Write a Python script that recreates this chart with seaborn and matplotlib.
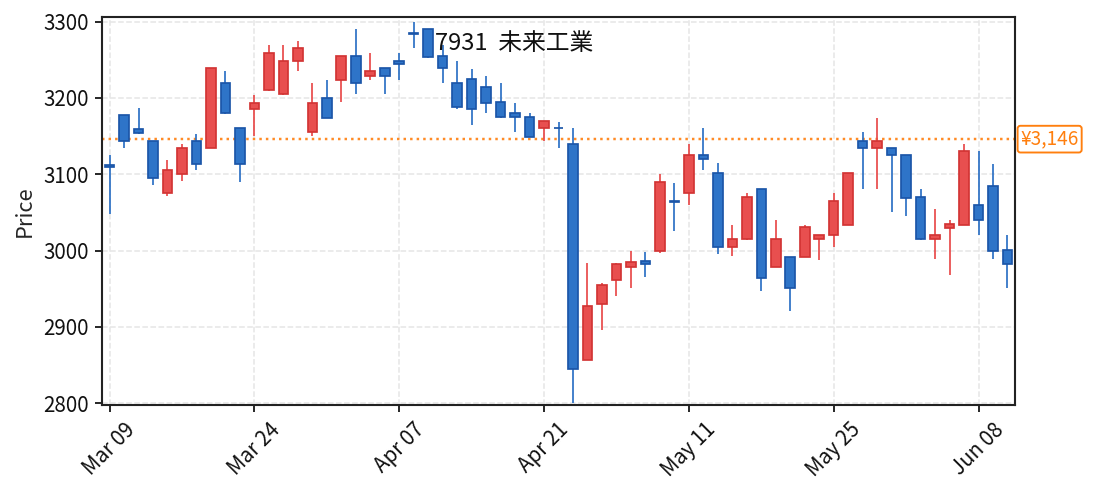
import matplotlib
matplotlib.use("Agg")
import matplotlib.pyplot as plt
import seaborn as sns
import numpy as np
import pandas as pd

dates = ["Mar 09", "Mar 10", "Mar 11", "Mar 12", "Mar 13", "Mar 16", "Mar 17", "Mar 18", "Mar 19", "Mar 23",
         "Mar 24", "Mar 25", "Mar 26", "Mar 27", "Mar 30", "Mar 31", "Apr 01", "Apr 02", "Apr 03", "Apr 06",
         "Apr 07", "Apr 08", "Apr 09", "Apr 10", "Apr 13", "Apr 14", "Apr 15", "Apr 16", "Apr 17", "Apr 20",
         "Apr 21", "Apr 22", "Apr 23", "Apr 24", "Apr 27", "Apr 28", "Apr 30", "May 01", "May 07", "May 08",
         "May 11", "May 12", "May 13", "May 14", "May 15", "May 18", "May 19", "May 20", "May 21", "May 22",
         "May 25", "May 26", "May 27", "May 28", "May 29", "Jun 01", "Jun 02", "Jun 03", "Jun 04", "Jun 05",
         "Jun 08", "Jun 09", "Jun 10"]

opens = [3112, 3177, 3159, 3143, 3076, 3100, 3143, 3134, 3219, 3160,
         3185, 3210, 3205, 3249, 3155, 3200, 3224, 3255, 3229, 3239,
         3249, 3285, 3290, 3255, 3220, 3225, 3214, 3195, 3180, 3175,
         3160, 3161, 3140, 2856, 2930, 2961, 2979, 2986, 3000, 3065,
         3075, 3125, 3101, 3004, 3015, 3081, 2979, 2992, 2992, 3015,
         3020, 3034, 3144, 3134, 3134, 3125, 3070, 3015, 3030, 3034,
         3060, 3084, 3001]
highs = [3125, 3178, 3187, 3144, 3119, 3139, 3153, 3239, 3235, 3161,
         3204, 3269, 3269, 3274, 3219, 3224, 3255, 3290, 3259, 3239,
         3259, 3299, 3291, 3269, 3249, 3238, 3229, 3219, 3194, 3180,
         3170, 3169, 3160, 2984, 2958, 2984, 3000, 2998, 3100, 3089,
         3139, 3160, 3115, 3034, 3075, 3081, 3040, 2992, 3034, 3020,
         3075, 3101, 3155, 3174, 3134, 3125, 3080, 3055, 3040, 3139,
         3130, 3114, 3020]
lows = [3048, 3134, 3153, 3086, 3071, 3091, 3105, 3134, 3179, 3090,
        3150, 3209, 3204, 3235, 3150, 3174, 3195, 3205, 3224, 3205,
        3224, 3265, 3253, 3219, 3185, 3164, 3180, 3174, 3155, 3149,
        3144, 3135, 2800, 2856, 2896, 2941, 2951, 2965, 2997, 3026,
        3060, 3105, 2995, 2993, 3014, 2947, 2979, 2921, 2992, 2988,
        3005, 3034, 3081, 3081, 3050, 3045, 3014, 2989, 2968, 3034,
        3020, 2989, 2951]
closes = [3110, 3143, 3154, 3095, 3105, 3134, 3114, 3239, 3180, 3114,
          3194, 3259, 3249, 3265, 3194, 3174, 3255, 3219, 3235, 3229,
          3244, 3284, 3254, 3239, 3188, 3185, 3194, 3175, 3175, 3149,
          3170, 3160, 2845, 2927, 2955, 2983, 2985, 2982, 3090, 3064,
          3125, 3120, 3004, 3015, 3070, 2964, 3015, 2951, 3031, 3020,
          3065, 3101, 3134, 3144, 3125, 3069, 3015, 3020, 3035, 3130,
          3040, 3000, 2982]

ref_price = 3146
ref_label = "¥3,146"
title_text = "7931  未来工業"
y_label = "Price"
tick_positions = [0, 10, 20, 30, 40, 50, 60]
y_ticks = [2800, 2900, 3000, 3100, 3200, 3300]

df = pd.DataFrame({"date": dates, "open": opens, "high": highs, "low": lows, "close": closes})
df["i"] = np.arange(len(df))
df["up"] = df["close"] > df["open"]

sns.set_theme(style="ticks")
plt.rcParams["font.family"] = ["Noto Sans CJK JP", "DejaVu Sans"]

UP_FILL, UP_EDGE, UP_WICK = "#e84f4f", "#d23434", "#e84848"
DN_FILL, DN_EDGE, DN_WICK = "#2e74c8", "#1b55a8", "#2a6fc4"

DPI = 137
fig = plt.figure(figsize=(1093 / DPI, 495 / DPI), dpi=DPI)
ax = fig.add_axes([0.0936, 0.181, 0.8348, 0.7845])

ax.grid(True, linestyle="--", color="#e6e6e6", linewidth=0.8)
ax.set_axisbelow(True)

for up, fill, edge, wick in [(True, UP_FILL, UP_EDGE, UP_WICK), (False, DN_FILL, DN_EDGE, DN_WICK)]:
    sub = df[df["up"] == up]
    ax.vlines(sub["i"], sub["low"], sub["high"], color=wick, linewidth=0.9, zorder=2)
    bottoms = np.minimum(sub["open"], sub["close"])
    heights = np.abs(sub["close"] - sub["open"])
    ax.bar(sub["i"], heights, bottom=bottoms, width=0.66, color=fill, edgecolor=edge,
           linewidth=0.9, zorder=3)

ax.axhline(ref_price, color="#ff7f0e", linestyle=":", linewidth=1.3, alpha=0.9, zorder=1)

ax.set_xlim(-0.5, len(df) - 0.5)
ax.set_ylim(2797, 3306)
ax.set_yticks(y_ticks)
ax.set_xticks(tick_positions)
ax.set_xticklabels([dates[p] for p in tick_positions], rotation=45, ha="center")
ax.tick_params(axis="both", labelsize=10.8, length=3.5, width=1.0, color="#222222", labelcolor="#111111")
ax.set_ylabel(y_label, fontsize=11.5)
ax.set_xlabel("")
for s in ax.spines.values():
    s.set_visible(True)
    s.set_color("#222222")
    s.set_linewidth(1.1)

ax.text(0.3646, 0.933, title_text, transform=ax.transAxes, fontsize=12.5, ha="left", va="center",
        color="#111111", zorder=5)

ax.annotate(ref_label, xy=(1.0, ref_price), xycoords=("axes fraction", "data"),
            xytext=(3, 0), textcoords="offset points", ha="left", va="center",
            fontsize=10, color="#ff7f0e",
            bbox=dict(boxstyle="round,pad=0.15", fc="white", ec="#ff7f0e", lw=1.0))

fig.savefig("out.png", dpi=DPI)
